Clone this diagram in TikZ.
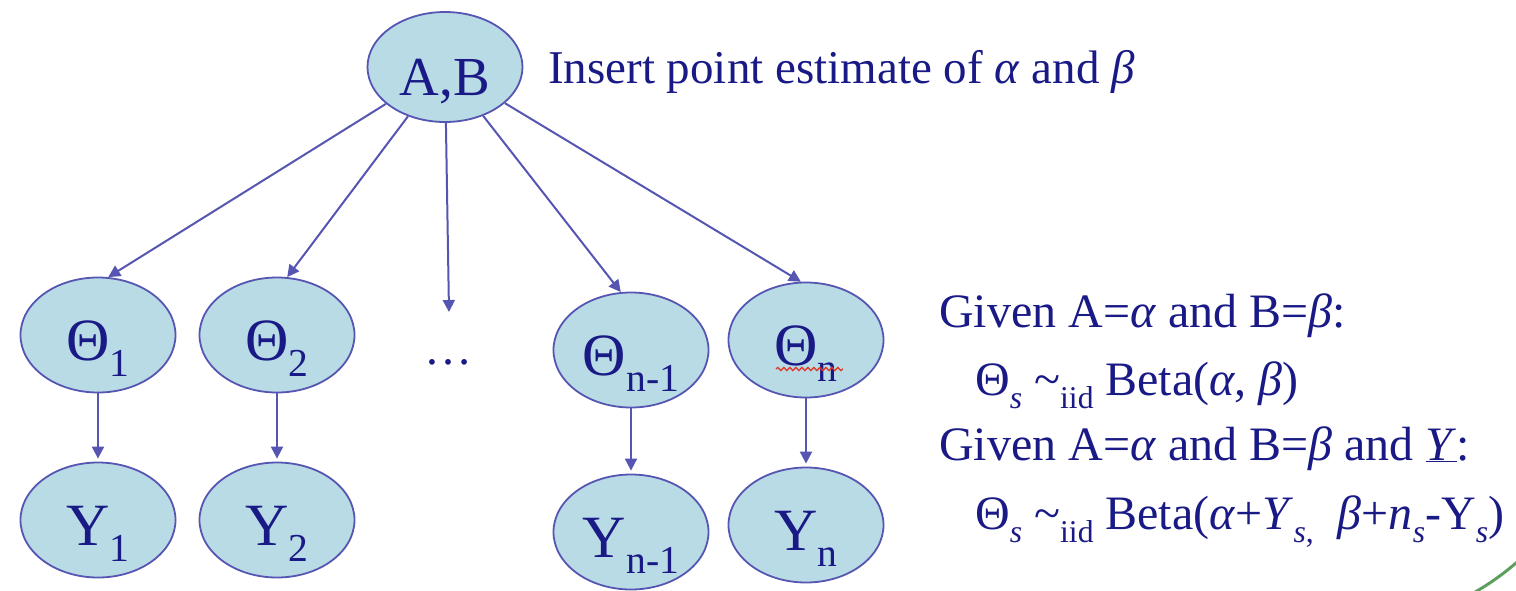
\documentclass[tikz,border=0pt]{standalone}
\usepackage{fontspec}
\usepackage{graphicx}
\setmainfont{Liberation Serif}
\usetikzlibrary{arrows.meta,shapes.geometric,decorations.pathmorphing}
\definecolor{txt}{HTML}{1A1A86}
\definecolor{edgec}{HTML}{5656B2}
\definecolor{fillb}{HTML}{B8DBE5}
\definecolor{grn}{HTML}{5E9E5E}
\definecolor{squig}{HTML}{E03A2A}
\newcommand\lo[1]{\raisebox{-0.28em}{\scalebox{0.66}{#1}}}
\begin{document}
\begin{tikzpicture}[x=1pt,y=-1pt,
  rv/.style={ellipse, draw=edgec, line width=1.8pt, fill=fillb,
    minimum width=155pt, minimum height=115pt, inner sep=0pt, text=txt,
    text height=50pt, text depth=0pt,
    font=\fontsize{60}{60}\selectfont},
  arr/.style={draw=edgec, line width=2pt, -{Triangle[length=12pt,width=12pt]}},
  lbl/.style={text=txt, anchor=base west, inner sep=0pt,
    font=\fontsize{48}{58}\selectfont}]
\useasboundingbox (0,0) rectangle (1516,590);
% nodes
\node[rv, minimum height=110pt, text height=56pt, font=\fontsize{55}{55}\selectfont] (AB) at (445,67) {A,B};
\node[rv] (T1) at (98,335) {Θ\lo{1}};
\node[rv] (Y1) at (98,520) {Y\lo{1}};
\node[rv] (T2) at (277,335) {Θ\lo{2}};
\node[rv] (Y2) at (277,520) {Y\lo{2}};
\node[rv] (Tn1) at (631,350) {Θ\lo{n-1}};
\node[rv] (Yn1) at (631,532) {Y\lo{n-1}};
\node[rv] (Tn) at (806,340) {Θ\lo{n}};
\node[rv] (Yn) at (806,525) {Y\lo{n}};
\node[text=txt, anchor=base, inner sep=0pt, font=\fontsize{48}{48}\selectfont] (dots) at (448,364) {…};
\coordinate (dtop) at (449,312);
% edges
\draw[arr] (AB) -- (T1.80);
\draw[arr] (AB) -- (T2.80);
\draw[arr] (AB) -- (dtop);
\draw[arr] (AB) -- (Tn1.100);
\draw[arr] (AB) -- (Tn.95);
\draw[arr, shorten >=3pt] (T1) -- (Y1);
\draw[arr, shorten >=3pt] (T2) -- (Y2);
\draw[arr, shorten >=3pt] (Tn1) -- (Yn1);
\draw[arr, shorten >=3pt] (Tn) -- (Yn);
% spell-check squiggle
\draw[squig, line width=1.3pt, decorate, decoration={snake, amplitude=1.6pt, segment length=6pt}] (776,369) -- (843,369);
% texts
\node[lbl, font=\fontsize{47}{56}\selectfont] (ins) at (548,83) {Insert point estimate of \textit{α} and \textit{β}};
\node[lbl] (g1) at (939,327) {Given A=\textit{α} and B=\textit{β}:};
\node[lbl] (g2) at (975,395) {Θ\lo{\textit{s}} \textasciitilde\lo{iid} Beta(\textit{α}, \textit{β})};
\node[lbl] (g3) at (939,460) {Given A=\textit{α} and B=\textit{β} and \underline{\textit{Y}}:};
\node[lbl] (g4) at (975,529) {Θ\lo{\textit{s}} \textasciitilde\lo{iid} Beta(\textit{α}+\textit{Y}\lo{\textit{s},}\ \ \textit{β}+\textit{n}\lo{\textit{s}}-Y\lo{\textit{s}})};
% decorative arc
\draw[grn, line width=3pt] (1468,596) .. controls (1490,584) and (1505,573) .. (1524,556);
\end{tikzpicture}
\end{document}
